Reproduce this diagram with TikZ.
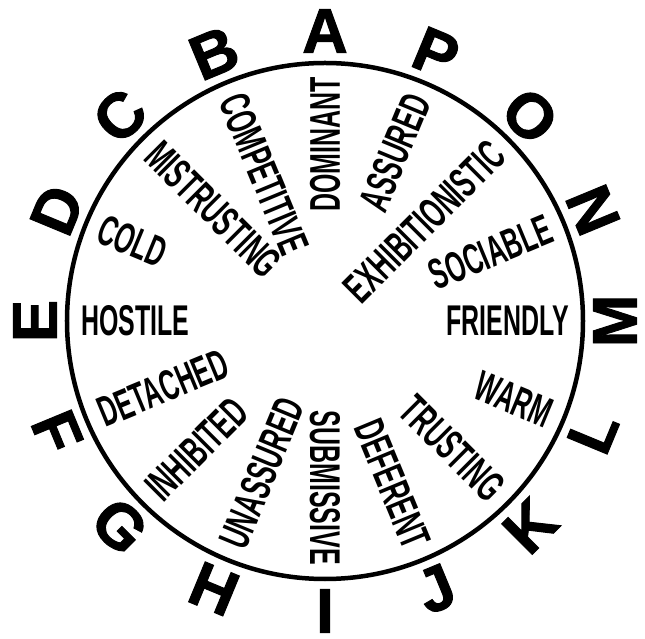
\documentclass[tikz,border=0pt]{standalone}
\usepackage{fontspec}
\newfontfamily\letterfont[FakeBold=1.5]{Liberation Sans Bold}
\newfontfamily\wordfont[FakeStretch=0.58]{Liberation Sans Bold}

\begin{document}
\begin{tikzpicture}[
    x=1pt, y=1pt,
    letter/.style={font=\letterfont\fontsize{63}{63}\selectfont, inner sep=0pt},
    word/.style={font=\wordfont\fontsize{43}{43}\selectfont, inner sep=0pt},
    ring/.style={line width=4.5pt}
]
    \useasboundingbox (-325,-318) rectangle (320,321);

    % 圆心与外圆
    \coordinate (O) at (0,0);
    \draw[ring] (O) circle[radius=258];

    % 外圈字母 (A 在正上方, 逆时针)
    \node[letter, rotate=0]     (A) at (90:290)    {A};
    \node[letter, rotate=22.5]  (B) at (112.5:290) {B};
    \node[letter, rotate=45]    (C) at (135:290)   {C};
    \node[letter, rotate=67.5]  (D) at (157.5:290) {D};
    \node[letter, rotate=90]    (E) at (180:290)   {E};
    \node[letter, rotate=-67.5] (F) at (202.5:290) {F};
    \node[letter, rotate=-45]   (G) at (225:290)   {G};
    \node[letter, rotate=-22.5] (H) at (247.5:290) {H};
    \node[letter, rotate=0]     (I) at (270:290)   {I};
    \node[letter, rotate=22.5]  (J) at (292.5:290) {J};
    \node[letter, rotate=45]    (K) at (315:290)   {K};
    \node[letter, rotate=67.5]  (L) at (337.5:290) {L};
    \node[letter, rotate=90]    (M) at (0:290)     {M};
    \node[letter, rotate=-67.5] (N) at (22.5:290)  {N};
    \node[letter, rotate=-45]   (O') at (45:290)   {O};
    \node[letter, rotate=-22.5] (P) at (67.5:290)  {P};

    % 左半圈的词 (从圆周向内读)
    \node[word, anchor=west, rotate=-67.5] (competitive) at (112.5:244) {COMPETITIVE};
    \node[word, anchor=west, rotate=-45]   (mistrusting) at (135:244)   {MISTRUSTING};
    \node[word, anchor=west, rotate=-22.5] (cold)        at (157.5:244) {COLD};
    \node[word, anchor=west, rotate=0]     (hostile)     at (180:244)   {HOSTILE};
    \node[word, anchor=west, rotate=22.5]  (detached)    at (202.5:244) {DETACHED};
    \node[word, anchor=west, rotate=45]    (inhibited)   at (225:244)   {INHIBITED};
    \node[word, anchor=west, rotate=67.5]  (unassured)   at (247.5:244) {UNASSURED};

    % 右半圈的词 (向外读到圆周)
    \node[word, anchor=east, rotate=90]    (dominant)    at (90:244)    {DOMINANT};
    \node[word, anchor=east, rotate=-90]   (submissive)  at (270:244)   {SUBMISSIVE};
    \node[word, anchor=east, rotate=-67.5] (deferent)    at (292.5:244) {DEFERENT};
    \node[word, anchor=east, rotate=-45]   (trusting)    at (315:244)   {TRUSTING};
    \node[word, anchor=east, rotate=-22.5] (warm)        at (337.5:244) {WARM};
    \node[word, anchor=east, rotate=0]     (friendly)    at (0:244)     {FRIENDLY};
    \node[word, anchor=east, rotate=22.5]  (sociable)    at (22.5:244)  {SOCIABLE};
    \node[word, anchor=east, rotate=45]    (exhibit)     at (45:244)    {EXHIBITIONISTIC};
    \node[word, anchor=east, rotate=67.5]  (assured)     at (67.5:244)  {ASSURED};

\end{tikzpicture}
\end{document}
